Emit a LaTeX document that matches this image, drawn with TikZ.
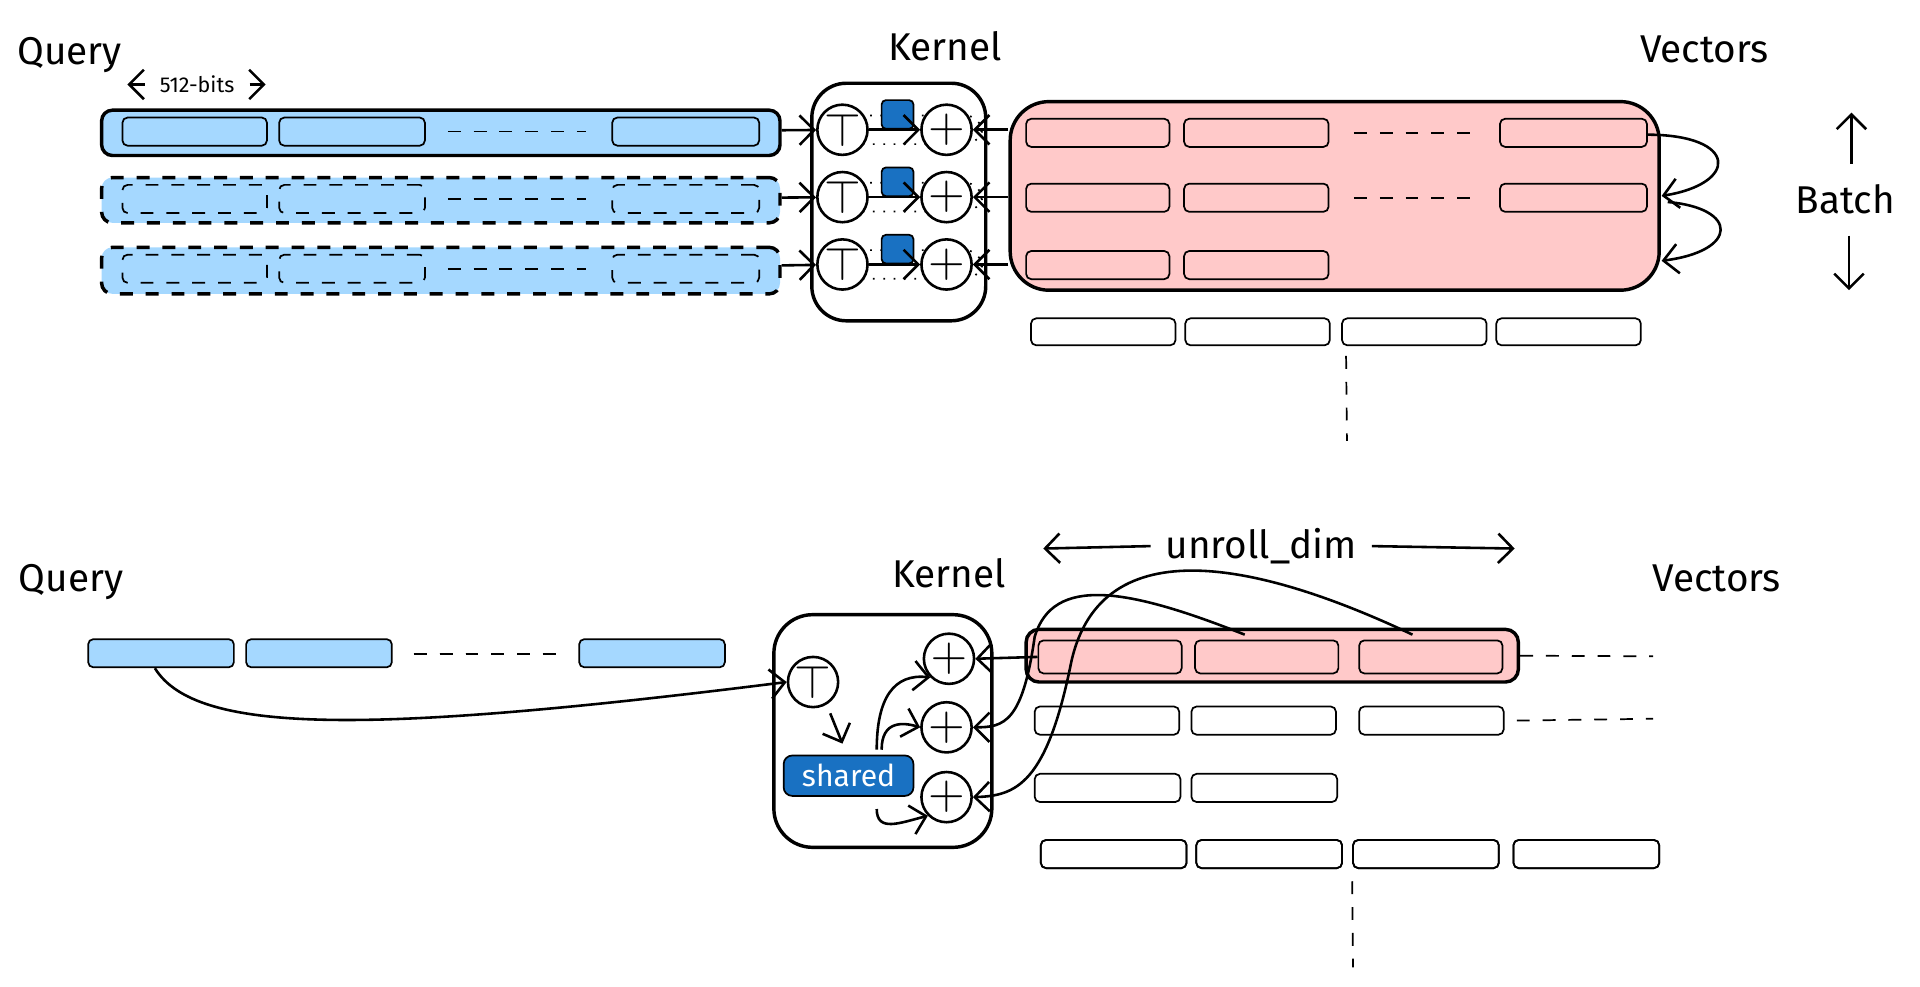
\documentclass[tikz,border=0pt]{standalone}
\usepackage{fontspec}
\setmainfont{Fira Sans}
\usetikzlibrary{arrows.meta}
\definecolor{qblue}{HTML}{A5D8FF}
\definecolor{vpink}{HTML}{FFC9C9}
\definecolor{kblue}{HTML}{1971C2}
\tikzset{
  lbl/.style={font=\fontsize{9}{10}\selectfont},
  cell/.style={draw, rounded corners=1.2pt, inner sep=0pt, line width=0.4pt},
  bar/.style={draw, rounded corners=2.5pt, inner sep=0pt, line width=0.8pt},
  op/.style={draw, circle, inner sep=0pt, minimum size=4.1mm, line width=0.6pt, font=\fontsize{11}{11}\selectfont},
  gap/.style={dashed, line width=0.4pt},
  conn/.style={-{Straight Barb[length=1.2mm]}, line width=0.6pt},
}
% box from corner (x1,y1) to (x2,y2), in reference pixels
\newcommand{\boxat}[6]{%
  \pgfmathsetmacro\bw{(#4-#2)*0.1}\pgfmathsetmacro\bh{(#5-#3)*0.1}%
  \node[#6, minimum width=\bw mm, minimum height=\bh mm] (#1) at ({(#2+#4)/2},{(#3+#5)/2}) {};}
\begin{document}
\begin{tikzpicture}[x=0.1mm, y=-0.1mm]
    \useasboundingbox (0,0) rectangle (1568,806);

    % ---------- top: batched layout ----------
    \node[lbl] (q1) at (57,45) {Query};
    \node[lbl] (k1) at (772,38) {Kernel};
    \node[lbl] (v1) at (1392,40) {Vectors};
    \node[font=\fontsize{5}{6}\selectfont] (bits) at (161,69) {512-bits};
    \coordinate (bitsL) at (104,69);
    \coordinate (bitsR) at (217,69);
    \draw[conn] (bits) -- (bitsL);
    \draw[conn] (bits) -- (bitsR);

    % query rows
    \boxat{qa}{83}{90}{637}{127}{bar, fill=qblue}
    \boxat{qb}{83}{145}{637}{182}{bar, fill=qblue, dashed}
    \boxat{qc}{83}{202}{637}{240}{bar, fill=qblue, dashed}
    \foreach \r/\y/\s in {a/96/solid, b/151/dashed, c/208/dashed} {
        \boxat{q\r1}{100}{\y}{218}{\y+23}{cell, \s}
        \boxat{q\r2}{228}{\y}{347}{\y+23}{cell, \s}
        \boxat{q\r3}{500}{\y}{620}{\y+23}{cell, \s}
        \draw[gap] (q\r2.east) ++(18,0) -- ++(113,0);
    }

    % kernel
    \boxat{kern}{663}{68}{805}{262}{draw, rounded corners=8pt, line width=0.8pt}
    \foreach \r/\y in {a/106, b/161, c/216} {
        \boxat{row\r}{668}{\y-28}{802}{\y+28}{draw, dotted, rounded corners=4pt}
        \node[op, fill=white] (t\r) at (688,\y) {$\top$};
        \node[op, fill=white] (p\r) at (773,\y) {$+$};
        \boxat{s\r}{720}{\y-19}{746}{\y-6}{draw, fill=kblue, rounded corners=1pt}
        \draw[conn] (t\r) -- (p\r);
        \draw[conn] (q\r) -- (t\r);
    }

    % vectors
    \boxat{vec}{825}{83}{1355}{237}{bar, fill=vpink, rounded corners=9pt}
    \foreach \r/\y in {a/97, b/150, c/205} {
        \boxat{v\r1}{838}{\y}{955}{\y+23}{cell}
        \boxat{v\r2}{967}{\y}{1085}{\y+23}{cell}
        \draw[conn] (vec.west |- p\r) -- (p\r);
    }
    \foreach \r/\y in {a/97, b/150} {
        \boxat{v\r3}{1225}{\y}{1345}{\y+23}{cell}
        \draw[gap] (v\r2.east) ++(20,0) -- ++(105,0);
    }
    \coordinate (va) at (1345,110);
    \coordinate (vb) at (1357,160);
    \coordinate (vc) at (1357,213);
    \draw[conn] (va) .. controls (1420,110) and (1420,150) .. (vb);
    \draw[conn] (vb) ++(5,5) .. controls (1420,170) and (1420,205) .. (vc);

    \node[lbl] (batch) at (1507,163) {Batch};
    \coordinate (bUp) at (1512,92);
    \coordinate (bDn) at (1510,237);
    \draw[conn] (batch.north) ++(5,-5) -- (bUp);
    \draw[conn] (batch.south) ++(3,5) -- (bDn);

    \foreach \i/\x in {1/842, 2/968, 3/1096, 4/1222}
        \boxat{w\i}{\x}{260}{\x+118}{282}{cell}
    \coordinate (wend) at (1100,360);
    \draw[gap] (w3.south west) ++(4,8) -- (wend);

    % ---------- bottom: unrolled layout ----------
    \node[lbl] (q2) at (58,475) {Query};
    \node[lbl] (k2) at (775,468) {Kernel};
    \node[lbl] (v2) at (1402,472) {Vectors};

    \foreach \i/\x in {1/72, 2/201, 4/473}
        \boxat{Q\i}{\x}{522}{\x+119}{545}{cell, fill=qblue}
    \draw[gap] (338,534) -- (455,534);

    \boxat{kern2}{632}{502}{810}{692}{draw, rounded corners=9pt, line width=0.8pt}
    \node[op] (T) at (664,557) {$\top$};
    \boxat{shared}{640}{617}{746}{650}{draw, fill=kblue, rounded corners=2pt}
    \node[text=white, font=\fontsize{7}{8}\selectfont] (sharedl) at (shared) {shared};
    \node[op] (P1) at (775,538) {$+$};
    \node[op] (P2) at (773,594) {$+$};
    \node[op] (P3) at (773,651) {$+$};

    \draw[conn] ([shift={(-5,0)}]Q1.south) .. controls (160,600) and (300,600) .. (T.west);
    \draw[conn] ([shift={(14,4)}]T.south) -- ([shift={(-5,-9)}]shared.north);
    \draw[conn] ([shift={(23,-4)}]shared.north) .. controls (716,570) and (730,550) .. (P1.south west);
    \draw[conn] ([shift={(27,-4)}]shared.north) .. controls (720,588) and (738,590) .. (P2.west);
    \draw[conn] ([shift={(23,10)}]shared.south) .. controls (716,680) and (735,672) .. (P3.south west);

    \boxat{row0}{838}{514}{1240}{557}{bar, fill=vpink, rounded corners=3pt}
    \foreach \i/\x in {1/848, 2/976, 3/1110}
        \boxat{R\i}{\x}{523}{\x+117}{550}{cell}
    \coordinate (r0end) at (1350,536);
    \draw[gap] (row0.east) -- (r0end);

    \draw[conn] (R1.west) -- (P1.east);
    \draw[conn] ([shift={(-18,-4)}]R2.north) .. controls (920,480) and (860,470) .. (845,520)
        .. controls (835,590) and (820,594) .. (P2.east);
    \draw[conn] ([shift={(-15,-4)}]R3.north) .. controls (1030,460) and (900,430) .. (875,540)
        .. controls (855,640) and (830,650) .. (P3.east);

    \foreach \i/\x in {1/845, 2/973, 3/1110}
        \boxat{A\i}{\x}{577}{\x+118}{600}{cell}
    \coordinate (a0end) at (1350,587);
    \draw[gap] (A3.east) ++(10,0) -- (a0end);
    \foreach \i/\x in {1/845, 2/973}
        \boxat{B\i}{\x}{632}{\x+119}{655}{cell}
    \foreach \i/\x in {1/850, 2/977, 3/1105, 4/1236}
        \boxat{C\i}{\x}{686}{\x+119}{709}{cell}
    \coordinate (cend) at (1105,790);
    \draw[gap] (C3.south west) ++(0,10) -- (cend);

    \node[font=\fontsize{9}{10}\selectfont] (unroll) at (1030,446) {unroll\_dim};
    \coordinate (uL) at (852,448);
    \coordinate (uR) at (1237,448);
    \draw[conn] (unroll.west) -- (uL);
    \draw[conn] (unroll.east) -- (uR);
\end{tikzpicture}
\end{document}
